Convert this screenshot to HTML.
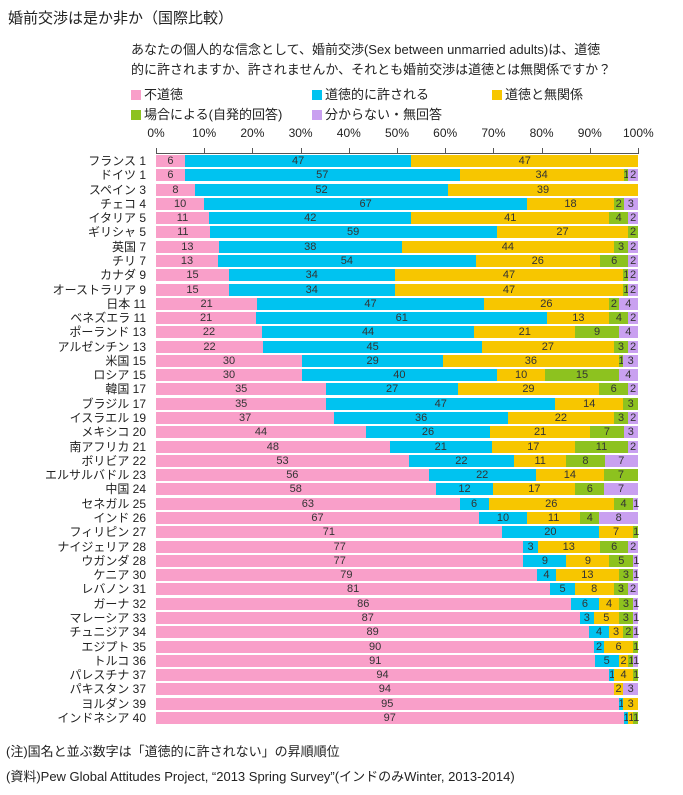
<!DOCTYPE html>
<html><head><meta charset="utf-8"><style>
body{margin:0;background:#fff;font-family:"Liberation Sans","Noto Sans CJK JP",sans-serif;color:#222}
#c{position:relative;width:683px;height:795px;overflow:hidden}
.t{position:absolute;white-space:nowrap}
.bar{position:absolute;height:12px;font-size:11px;line-height:12px;text-align:center;color:#333;overflow:visible}
.lab{position:absolute;right:537px;font-size:12px;line-height:14px;white-space:nowrap;text-align:right}
.sw{display:inline-block;width:10px;height:10px;margin-right:3px;vertical-align:-1px}
</style></head><body><div id="c">
<div class="t" style="left:8px;top:7px;font-size:15px">婚前交渉は是か非か（国際比較）</div>
<div class="t" style="left:131px;top:40px;font-size:13px;line-height:20px">あなたの個人的な信念として、婚前交渉(Sex between unmarried adults)は、道徳<br>的に許されますか、許されませんか、それとも婚前交渉は道徳とは無関係ですか？</div>
<div class="t" style="left:131px;top:84px;font-size:13px"><span class="sw" style="background:#f99fc9"></span>不道徳</div>
<div class="t" style="left:312px;top:84px;font-size:13px"><span class="sw" style="background:#00c3f0"></span>道徳的に許される</div>
<div class="t" style="left:492px;top:84px;font-size:13px"><span class="sw" style="background:#f7c600"></span>道徳と無関係</div>
<div class="t" style="left:131px;top:104px;font-size:13px"><span class="sw" style="background:#8dc21f"></span>場合による(自発的回答)</div>
<div class="t" style="left:312px;top:104px;font-size:13px"><span class="sw" style="background:#c9a0f0"></span>分からない・無回答</div>
<div class="t" style="left:6px;top:741px;font-size:13px">(注)国名と並ぶ数字は「道徳的に許されない」の昇順順位</div>
<div class="t" style="left:6px;top:766px;font-size:13px">(資料)Pew Global Attitudes Project, “2013 Spring Survey”(インドのみWinter, 2013-2014)</div>
</div>
<script>
var d=[["フランス 1",6,47,47,0,0],["ドイツ 1",6,57,34,1,2],["スペイン 3",8,52,39,0,0],["チェコ 4",10,67,18,2,3],["イタリア 5",11,42,41,4,2],["ギリシャ 5",11,59,27,2,0],["英国 7",13,38,44,3,2],["チリ 7",13,54,26,6,2],["カナダ 9",15,34,47,1,2],["オーストラリア 9",15,34,47,1,2],["日本 11",21,47,26,2,4],["ベネズエラ 11",21,61,13,4,2],["ポーランド 13",22,44,21,9,4],["アルゼンチン 13",22,45,27,3,2],["米国 15",30,29,36,1,3],["ロシア 15",30,40,10,15,4],["韓国 17",35,27,29,6,2],["ブラジル 17",35,47,14,3,0],["イスラエル 19",37,36,22,3,2],["メキシコ 20",44,26,21,7,3],["南アフリカ 21",48,21,17,11,2],["ボリビア 22",53,22,11,8,7],["エルサルバドル 23",56,22,14,7,0],["中国 24",58,12,17,6,7],["セネガル 25",63,6,26,4,1],["インド 26",67,10,11,4,8],["フィリピン 27",71,20,7,1,0],["ナイジェリア 28",77,3,13,6,2],["ウガンダ 28",77,9,9,5,1],["ケニア 30",79,4,13,3,1],["レバノン 31",81,5,8,3,2],["ガーナ 32",86,6,4,3,1],["マレーシア 33",87,3,5,3,1],["チュニジア 34",89,4,3,2,1],["エジプト 35",90,2,6,1,0],["トルコ 36",91,5,2,1,1],["パレスチナ 37",94,1,4,1,0],["パキスタン 37",94,0,2,0,3],["ヨルダン 39",95,1,3,0,0],["インドネシア 40",97,1,1,1,0]];
var col=["#f99fc9","#00c3f0","#f7c600","#8dc21f","#c9a0f0"];
var c=document.getElementById('c'),x0=156,W=482,h="";
for(var i=0;i<=10;i++){var x=x0+W*i/10;h+='<div class="t" style="left:'+(x-15)+'px;width:30px;text-align:center;top:126px;font-size:12px">'+(i*10)+'%</div>';
h+='<div style="position:absolute;left:'+Math.round(x)+'px;top:148px;width:1px;height:5px;background:#555"></div>';}
h+='<div style="position:absolute;left:156px;top:153px;width:483px;height:1px;background:#555"></div>';
d.forEach(function(r,j){var y=155+j*14.28;h+='<div class="lab" style="top:'+(y-1)+'px">'+r[0]+'</div>';
var s=r[1]+r[2]+r[3]+r[4]+r[5];
var acc=0;for(var k=0;k<5;k++){var v=r[k+1];if(!v)continue;var l=x0+W*acc/s,w=W*v/s;acc+=v;
h+='<div class="bar" style="left:'+l+'px;top:'+y+'px;width:'+w+'px;background:'+col[k]+'">'+v+'</div>';}});
c.insertAdjacentHTML('beforeend',h);
</script></body></html>
